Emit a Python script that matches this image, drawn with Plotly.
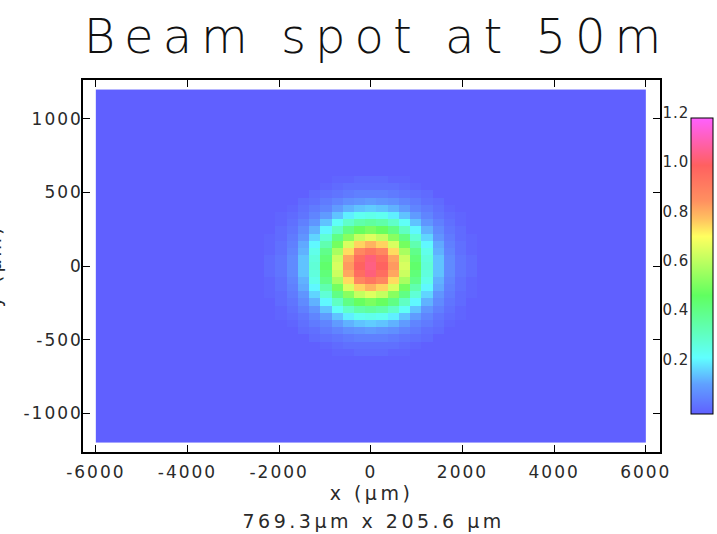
import numpy as np
import plotly.graph_objects as go

# ---------------- data ----------------
TITLE = "Beam spot at 50m"
X_TITLE = "x (μm)"
Y_TITLE = "y (μm)"
SUBTITLE = "769.3μm x 205.6 μm"

N_XBINS = 49
N_YBINS = 49
X_LIMITS = [-6000, 6000]
Y_LIMITS = [-1200, 1200]

X_TICKVALS = [-6000, -4000, -2000, 0, 2000, 4000, 6000]
X_TICKTEXT = ["-6000", "-4000", "-2000", "0", "2000", "4000", "6000"]
Y_TICKVALS = [-1000, -500, 0, 500, 1000]
Y_TICKTEXT = ["-1000", "-500", "0", "500", "1000"]
CB_TICKVALS = [0.2, 0.4, 0.6, 0.8, 1.0, 1.2]
CB_TICKTEXT = ["0.2", "0.4", "0.6", "0.8", "1.0", "1.2"]
Z_MIN, Z_MAX = 0.0, 1.2

# non-empty block of the histogram (rows bottom->top), all other cells are 0
SPOT_ROW0 = 12   # first y-bin index of the block
SPOT_COL0 = 15   # first x-bin index of the block
SPOT = [
    [0, 0, 0, 0, 0, 0, 0.01, 0.01, 0.02, 0.02, 0.02, 0.01, 0.01, 0, 0, 0, 0, 0, 0],
    [0, 0, 0, 0, 0, 0.01, 0.02, 0.03, 0.03, 0.03, 0.03, 0.03, 0.02, 0.01, 0, 0, 0, 0, 0],
    [0, 0, 0, 0, 0.02, 0.03, 0.04, 0.05, 0.06, 0.06, 0.06, 0.05, 0.04, 0.03, 0.02, 0, 0, 0, 0],
    [0, 0, 0, 0.02, 0.03, 0.05, 0.07, 0.09, 0.10, 0.11, 0.10, 0.09, 0.07, 0.05, 0.03, 0.02, 0, 0, 0],
    [0, 0, 0.01, 0.03, 0.05, 0.07, 0.11, 0.14, 0.16, 0.17, 0.16, 0.14, 0.11, 0.07, 0.05, 0.03, 0.01, 0, 0],
    [0, 0.01, 0.02, 0.04, 0.07, 0.11, 0.16, 0.21, 0.25, 0.26, 0.25, 0.21, 0.16, 0.11, 0.07, 0.04, 0.02, 0.01, 0],
    [0, 0.01, 0.03, 0.06, 0.10, 0.16, 0.24, 0.31, 0.36, 0.38, 0.36, 0.31, 0.24, 0.16, 0.10, 0.06, 0.03, 0.01, 0],
    [0, 0.02, 0.04, 0.08, 0.14, 0.22, 0.32, 0.42, 0.49, 0.52, 0.49, 0.42, 0.32, 0.22, 0.14, 0.08, 0.04, 0.02, 0],
    [0.01, 0.02, 0.05, 0.10, 0.18, 0.29, 0.42, 0.54, 0.63, 0.67, 0.63, 0.54, 0.42, 0.29, 0.18, 0.10, 0.05, 0.02, 0.01],
    [0.01, 0.03, 0.06, 0.13, 0.22, 0.35, 0.51, 0.66, 0.77, 0.81, 0.77, 0.66, 0.51, 0.35, 0.22, 0.13, 0.06, 0.03, 0.01],
    [0.01, 0.03, 0.07, 0.14, 0.26, 0.41, 0.59, 0.76, 0.89, 0.94, 0.89, 0.76, 0.59, 0.41, 0.26, 0.14, 0.07, 0.03, 0.01],
    [0.02, 0.04, 0.08, 0.16, 0.28, 0.44, 0.64, 0.83, 0.97, 1.04, 0.97, 0.83, 0.64, 0.44, 0.28, 0.16, 0.08, 0.04, 0.02],
    [0.02, 0.04, 0.08, 0.16, 0.29, 0.46, 0.66, 0.85, 1.00, 1.05, 1.00, 0.85, 0.66, 0.46, 0.29, 0.16, 0.08, 0.04, 0.02],
    [0.02, 0.04, 0.08, 0.16, 0.28, 0.44, 0.64, 0.83, 0.97, 1.04, 0.97, 0.83, 0.64, 0.44, 0.28, 0.16, 0.08, 0.04, 0.02],
    [0.01, 0.03, 0.07, 0.14, 0.26, 0.41, 0.59, 0.76, 0.89, 0.94, 0.89, 0.76, 0.59, 0.41, 0.26, 0.14, 0.07, 0.03, 0.01],
    [0.01, 0.03, 0.06, 0.13, 0.22, 0.35, 0.51, 0.66, 0.77, 0.81, 0.77, 0.66, 0.51, 0.35, 0.22, 0.13, 0.06, 0.03, 0.01],
    [0.01, 0.02, 0.05, 0.10, 0.18, 0.29, 0.42, 0.54, 0.63, 0.67, 0.63, 0.54, 0.42, 0.29, 0.18, 0.10, 0.05, 0.02, 0.01],
    [0, 0.02, 0.04, 0.08, 0.14, 0.22, 0.32, 0.42, 0.49, 0.52, 0.49, 0.42, 0.32, 0.22, 0.14, 0.08, 0.04, 0.02, 0],
    [0, 0.01, 0.03, 0.06, 0.10, 0.16, 0.24, 0.31, 0.36, 0.38, 0.36, 0.31, 0.24, 0.16, 0.10, 0.06, 0.03, 0.01, 0],
    [0, 0.01, 0.02, 0.04, 0.07, 0.11, 0.16, 0.21, 0.25, 0.26, 0.25, 0.21, 0.16, 0.11, 0.07, 0.04, 0.02, 0.01, 0],
    [0, 0, 0.01, 0.03, 0.05, 0.07, 0.11, 0.14, 0.16, 0.17, 0.16, 0.14, 0.11, 0.07, 0.05, 0.03, 0.01, 0, 0],
    [0, 0, 0, 0.02, 0.03, 0.05, 0.07, 0.09, 0.10, 0.11, 0.10, 0.09, 0.07, 0.05, 0.03, 0.02, 0, 0, 0],
    [0, 0, 0, 0, 0.02, 0.03, 0.04, 0.05, 0.06, 0.06, 0.06, 0.05, 0.04, 0.03, 0.02, 0, 0, 0, 0],
    [0, 0, 0, 0, 0, 0.01, 0.02, 0.03, 0.03, 0.03, 0.03, 0.03, 0.02, 0.01, 0, 0, 0, 0, 0],
    [0, 0, 0, 0, 0, 0, 0.01, 0.01, 0.02, 0.02, 0.02, 0.01, 0.01, 0, 0, 0, 0, 0, 0],
]

COLORSCALE = [
    [0.00, "#6060ff"],
    [0.10, "#60a0ff"],
    [0.19, "#60ffff"],
    [0.27, "#60ffc0"],
    [0.40, "#60ff60"],
    [0.52, "#c0ff60"],
    [0.60, "#ffff60"],
    [0.66, "#ffc060"],
    [0.72, "#ff9060"],
    [0.84, "#ff6060"],
    [0.88, "#ff6088"],
    [1.00, "#ff60ff"],
]

# ---------------- build histogram grid ----------------
z = np.zeros((N_YBINS, N_XBINS))
spot = np.array(SPOT)
z[SPOT_ROW0:SPOT_ROW0 + spot.shape[0], SPOT_COL0:SPOT_COL0 + spot.shape[1]] = spot

x_edges = np.linspace(X_LIMITS[0], X_LIMITS[1], N_XBINS + 1)
y_edges = np.linspace(Y_LIMITS[0], Y_LIMITS[1], N_YBINS + 1)
x_centers = 0.5 * (x_edges[:-1] + x_edges[1:])
y_centers = 0.5 * (y_edges[:-1] + y_edges[1:])

# ---------------- layout geometry ----------------
W, H = 717, 534
ML, MR, MT, MB = 83, 57, 80, 82
PW, PH = W - ML - MR, H - MT - MB
CB_LEN_PX = 296
CB_LEN = CB_LEN_PX / PH
CB_Y = 0.5
CB_X = (691 - ML) / PW

FONT = "DejaVu Sans, sans-serif"
TXT = "#2a2a2a"
TITLE_SPACING = 9  # px letter spacing of the title (wide stroke font)

fig = go.Figure()
fig.add_trace(go.Heatmap(
    x=x_centers, y=y_centers, z=z,
    zmin=Z_MIN, zmax=Z_MAX, zsmooth=False,
    colorscale=COLORSCALE,
    colorbar=dict(
        x=CB_X, xanchor="left", xpad=0, ypad=0,
        y=CB_Y, yanchor="middle",
        thickness=22, thicknessmode="pixels",
        len=CB_LEN, lenmode="fraction",
        outlinewidth=1, outlinecolor="black",
        showticklabels=False, ticks="",
        tickvals=CB_TICKVALS,
    ),
    hoverinfo="skip",
))

axis_common = dict(
    showgrid=False, zeroline=False,
    showline=True, linecolor="black", linewidth=1.5, mirror="ticks",
    ticks="inside", ticklen=7, tickwidth=1, tickcolor="black",
    tickfont=dict(family=FONT, size=17, color=TXT),
)

fig.update_xaxes(
    range=[-6280, 6310], tickvals=X_TICKVALS, ticktext=X_TICKTEXT,
    title=dict(text=X_TITLE, font=dict(family=FONT, size=19, color=TXT), standoff=6),
    ticklabelstandoff=4,
    **axis_common,
)
fig.update_yaxes(
    range=[-1264, 1265], tickvals=Y_TICKVALS, ticktext=Y_TICKTEXT,
    ticklabelstandoff=-5,
    **axis_common,
)

annotations = []
cb_bottom = CB_Y - CB_LEN / 2
for v, t in zip(CB_TICKVALS, CB_TICKTEXT):
    annotations.append(dict(
        xref="paper", yref="paper",
        x=(690 - ML) / PW, xanchor="right",
        y=cb_bottom + (v - Z_MIN) / (Z_MAX - Z_MIN) * CB_LEN, yanchor="middle",
        yshift=5, text=t, showarrow=False,
        font=dict(family=FONT, size=15, color=TXT),
    ))
SUB_INDEX = len(annotations)
annotations.append(dict(
    xref="paper", yref="paper", x=0.5 + 2 / PW, xanchor="center",
    y=((H - MB) - 521) / PH, yanchor="middle",
    text=SUBTITLE, showarrow=False,
    font=dict(family=FONT, size=19, color=TXT),
))
annotations.append(dict(
    xref="paper", yref="paper", x=(-6 - ML) / PW, xanchor="center",
    y=0.5, yanchor="middle", textangle=-90,
    text=Y_TITLE, showarrow=False,
    font=dict(family=FONT, size=19, color=TXT),
))

fig.update_layout(
    width=W, height=H,
    margin=dict(l=ML, r=MR, t=MT, b=MB, autoexpand=False),
    paper_bgcolor="white", plot_bgcolor="white",
    title=dict(text=TITLE, x=0.5 + (TITLE_SPACING / 2 + 1) / PW, xref="paper", xanchor="center",
               y=1 - 36 / H, yref="container", yanchor="middle",
               font=dict(family=FONT, size=48, color="#111111", weight=200)),
    annotations=annotations,
    showlegend=False,
)

POST = """
document.body.style.margin = '0px';
var gd = document.getElementById('{plot_id}');
function spacing(sel, px) {
  gd.querySelectorAll(sel).forEach(function (e) { e.style.letterSpacing = px + 'px'; });
}
spacing('text.gtitle', %d);
spacing('g.xtick text', 2);
spacing('g.ytick text', 2);
spacing('text.xtitle', 3.5);
spacing('text.annotation-text', 1);
spacing('g.annotation[data-index="%d"] text', 3.5);
spacing('g.annotation[data-index="%d"] text', 3.5);
""" % (TITLE_SPACING, SUB_INDEX, SUB_INDEX + 1)

fig.write_html("out.html", config={"displayModeBar": False}, post_script=POST)
